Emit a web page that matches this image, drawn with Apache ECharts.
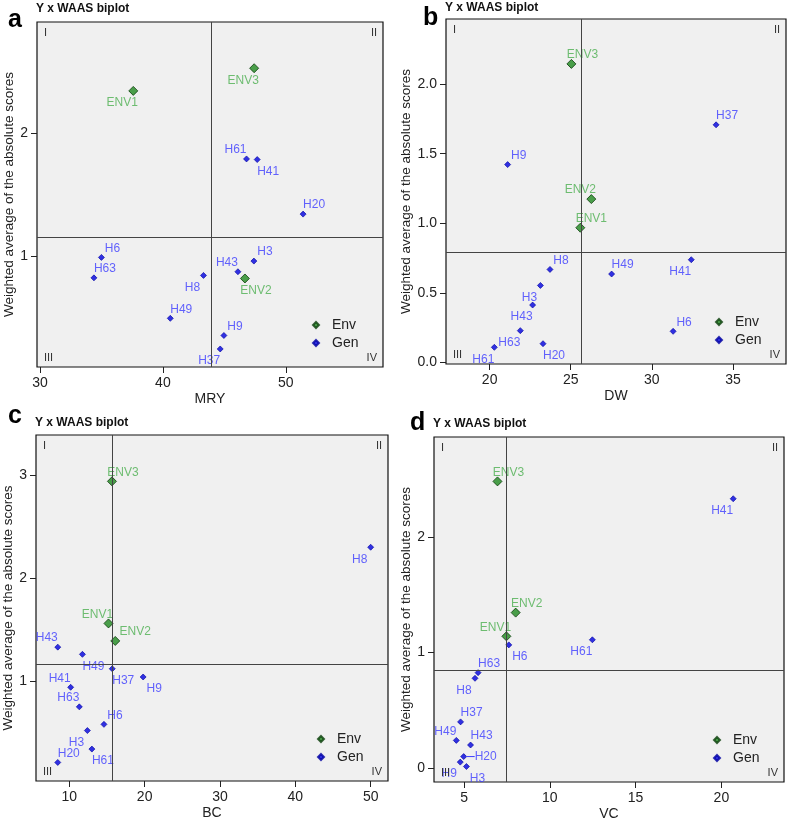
<!DOCTYPE html>
<html lang="en">
<head>
<meta charset="utf-8">
<title>Y x WAAS biplot</title>
<script src="https://cdn.jsdelivr.net/npm/echarts@6/dist/echarts.min.js"></script>
<style>
  html, body { margin: 0; padding: 0; background: #fff; }
  #main { width: 789px; height: 824px; }
</style>
</head>
<body>
<div id="main"></div>
<script>
// genotypes and environments (same order in every panel)
var genNames = ['H3', 'H6', 'H8', 'H9', 'H20', 'H37', 'H41', 'H43', 'H49', 'H61', 'H63'];
var envNames = ['ENV1', 'ENV2', 'ENV3'];

// a: MRY
var mryGenX = [47.4, 35.0, 43.3, 44.96, 51.4, 44.66, 47.67, 46.1, 40.6, 46.8, 34.39];
var mryGenY = [0.957, 0.987, 0.84, 0.35, 1.34, 0.24, 1.785, 0.87, 0.49, 1.79, 0.82];
var mryEnvX = [37.59, 46.67, 47.42];
var mryEnvY = [2.345, 0.815, 2.53];
var mryMeans = [43.9, 1.15];
var mryXTicks = [30, 40, 50];
var mryYTicks = [1, 2];

// b: DW
var dwGenX = [23.13, 31.31, 23.72, 21.11, 23.29, 33.96, 32.43, 22.65, 27.52, 20.29, 21.89];
var dwGenY = [0.553, 0.223, 0.668, 1.422, 0.134, 1.708, 0.738, 0.412, 0.635, 0.108, 0.228];
var dwEnvX = [25.59, 26.27, 25.04];
var dwEnvY = [0.968, 1.174, 2.146];
var dwMeans = [25.63, 0.793];
var dwXTicks = [20, 25, 30, 35];
var dwYTicks = [0, 0.5, 1, 1.5, 2];

// c: BC
var bcGenX = [12.4, 14.6, 50.0, 19.8, 8.47, 15.7, 10.18, 8.47, 11.74, 13.0, 11.33];
var bcGenY = [0.52, 0.58, 2.30, 1.04, 0.21, 1.12, 0.94, 1.33, 1.26, 0.34, 0.75];
var bcEnvX = [15.2, 16.1, 15.66];
var bcEnvY = [1.56, 1.39, 2.94];
var bcMeans = [15.66, 1.16];
var bcXTicks = [10, 20, 30, 40, 50];
var bcYTicks = [1, 2, 3];

// d: VC
var vcGenX = [5.14, 7.61, 5.64, 4.78, 4.98, 4.80, 20.69, 5.38, 4.55, 12.48, 5.82];
var vcGenY = [0.014, 1.066, 0.777, 0.052, 0.10, 0.40, 2.33, 0.20, 0.24, 1.11, 0.826];
var vcEnvX = [7.47, 8.01, 6.95];
var vcEnvY = [1.14, 1.345, 2.48];
var vcMeans = [7.47, 0.853];
var vcXTicks = [5, 10, 15, 20];
var vcYTicks = [0, 1, 2];

// label placement per point
var offs = { tr: [11, -9], tl: [-11, -9], br: [11, 12], bl: [-11, 12], tr2: [20, -9], r: [22, 0] };

var panels = [
  { letter: 'a', xName: 'MRY', gx: mryGenX, gy: mryGenY, ex: mryEnvX, ey: mryEnvY, means: mryMeans,
    xt: mryXTicks, yt: mryYTicks, xr: [29.76, 57.9], yr: [0.093, 2.907], yDec: 0, nameGap: 20,
    rect: { left: 37, top: 22, width: 346, height: 345 }, titleTop: 3, letterPos: [8, 8],
    lab: { H3: 'tr', H6: 'tr', H8: 'bl', H9: 'tr', H20: 'tr', H37: 'bl', H41: 'br', H43: 'tl', H49: 'tr', H61: 'tl', H63: 'tr', ENV1: 'bl', ENV2: 'br', ENV3: 'bl' } },
  { letter: 'b', xName: 'DW', gx: dwGenX, gy: dwGenY, ex: dwEnvX, ey: dwEnvY, means: dwMeans,
    xt: dwXTicks, yt: dwYTicks, xr: [17.31, 38.27], yr: [-0.012, 2.469], yDec: 1, nameGap: 30,
    rect: { left: 446, top: 19, width: 340, height: 345 }, titleTop: 2, letterPos: [423, 6],
    lab: { H3: 'bl', H6: 'tr', H8: 'tr', H9: 'tr', H20: 'br', H37: 'tr', H41: 'bl', H43: 'bl', H49: 'tr', H61: 'bl', H63: 'bl', ENV1: 'tr', ENV2: 'tl', ENV3: 'tr' } },
  { letter: 'c', xName: 'BC', gx: bcGenX, gy: bcGenY, ex: bcEnvX, ey: bcEnvY, means: bcMeans,
    xt: bcXTicks, yt: bcYTicks, xr: [5.58, 52.3], yr: [0.03, 3.39], yDec: 0, nameGap: 20,
    rect: { left: 36, top: 435, width: 352, height: 346 }, titleTop: 417, letterPos: [8, 404],
    lab: { H3: 'bl', H6: 'tr', H8: 'bl', H9: 'br', H20: 'tr', H37: 'br', H41: 'tl', H43: 'tl', H49: 'br', H61: 'br', H63: 'tl', ENV1: 'tl', ENV2: 'tr2', ENV3: 'tr' } },
  { letter: 'd', xName: 'VC', gx: vcGenX, gy: vcGenY, ex: vcEnvX, ey: vcEnvY, means: vcMeans,
    xt: vcXTicks, yt: vcYTicks, xr: [3.25, 23.65], yr: [-0.12, 2.864], yDec: 0, nameGap: 20,
    rect: { left: 434, top: 437, width: 350, height: 345 }, titleTop: 418, letterPos: [410, 411],
    lab: { H3: 'br', H6: 'br', H8: 'bl', H9: 'bl', H20: 'r', H37: 'tr', H41: 'bl', H43: 'tr', H49: 'tl', H61: 'bl', H63: 'tr', ENV1: 'tl', ENV2: 'tr', ENV3: 'tr' } }
];

var font = 'Liberation Sans, Arial, sans-serif';
var myChart = echarts.init(document.getElementById('main'));

var grid = [], xAxis = [], yAxis = [], series = [], title = [], legend = [], graphic = [];

function pts(names, xs, ys, lab) {
  var out = [];
  for (var i = 0; i < names.length; i++) {
    out.push({ name: names[i], value: [xs[i], ys[i]], label: { offset: offs[lab[names[i]]] } });
  }
  return out;
}

panels.forEach(function (p, k) {
  var r = p.rect;
  grid.push({ left: r.left, top: r.top, width: r.width, height: r.height, show: true,
    backgroundColor: '#f0f0f0', borderColor: '#111', borderWidth: 1.2 });

  xAxis.push({ gridIndex: k, type: 'value', min: p.xr[0], max: p.xr[1],
    name: p.xName, nameLocation: 'middle', nameGap: 25,
    nameTextStyle: { fontSize: 14, color: '#222', fontFamily: font },
    axisLine: { show: false, onZero: false }, splitLine: { show: false },
    axisTick: { show: true, length: 6, customValues: p.xt, lineStyle: { color: '#222' } },
    axisLabel: { customValues: p.xt, fontSize: 14, color: '#222', margin: 9, fontFamily: font } });

  yAxis.push({ gridIndex: k, type: 'value', min: p.yr[0], max: p.yr[1],
    name: 'Weighted average of the absolute scores', nameLocation: 'middle', nameGap: p.nameGap,
    nameTextStyle: { fontSize: 13.5, color: '#222', fontFamily: font },
    axisLine: { show: false, onZero: false }, splitLine: { show: false },
    axisTick: { show: true, length: 6, customValues: p.yt, lineStyle: { color: '#222' } },
    axisLabel: { customValues: p.yt, fontSize: 14, color: '#222', margin: 9, fontFamily: font,
      formatter: function (v) { return v.toFixed(p.yDec); } } });

  // quadrant lines at the means
  series.push({ type: 'scatter', xAxisIndex: k, yAxisIndex: k, data: [], z: 1, silent: true,
    markLine: { silent: true, symbol: 'none', animation: false, label: { show: false },
      lineStyle: { color: '#444', width: 1, type: 'solid' },
      data: [{ xAxis: p.means[0] }, { yAxis: p.means[1] }] } });

  series.push({ name: 'Gen', type: 'scatter', xAxisIndex: k, yAxisIndex: k, z: 3,
    symbol: 'diamond', symbolSize: 6,
    itemStyle: { color: '#0000dd', borderColor: '#0000a0', borderWidth: 0.8 },
    label: { show: true, position: 'inside', formatter: '{b}', fontSize: 12, color: '#3c3cff', fontFamily: font },
    data: pts(genNames, p.gx, p.gy, p.lab) });

  series.push({ name: 'Env', type: 'scatter', xAxisIndex: k, yAxisIndex: k, z: 4,
    symbol: 'diamond', symbolSize: 9,
    itemStyle: { color: '#1f8a1f', borderColor: '#0b3d0b', borderWidth: 1 },
    label: { show: true, position: 'inside', formatter: '{b}', fontSize: 12, color: '#4caf50', fontFamily: font },
    data: pts(envNames, p.ex, p.ey, p.lab) });

  title.push({ text: 'Y x WAAS biplot', left: r.left - 1, top: p.titleTop, padding: 0,
    textStyle: { fontSize: 12, fontWeight: 'bold', color: '#111', fontFamily: font } });
  title.push({ text: p.letter, left: p.letterPos[0], top: p.letterPos[1], padding: 0,
    textStyle: { fontSize: 25, fontWeight: 'bold', color: '#000', fontFamily: font } });

  legend.push({ data: [{ name: 'Env', icon: 'diamond' }, { name: 'Gen', icon: 'diamond' }],
    orient: 'vertical', left: r.left + r.width - 71, top: r.top + r.height - 49,
    padding: 0, itemGap: 4, itemWidth: 6, itemHeight: 6, selectedMode: false,
    textStyle: { fontSize: 14, color: '#222', fontFamily: font, padding: [0, 0, 0, 8] } });

  // quadrant numerals
  var qs = { fontSize: 11, fill: '#333', fontFamily: font };
  var right = r.left + r.width, bottom = r.top + r.height;
  [['I', r.left + 7, r.top + 11, 'left'], ['II', right - 6, r.top + 11, 'right'],
   ['III', r.left + 7, bottom - 9, 'left'], ['IV', right - 6, bottom - 9, 'right']].forEach(function (q) {
    graphic.push({ type: 'text', x: q[1], y: q[2], z: 10,
      style: Object.assign({ text: q[0], textAlign: q[3], textVerticalAlign: 'middle' }, qs) });
  });
});

myChart.setOption({
  animation: false,
  textStyle: { fontFamily: font },
  title: title, grid: grid, xAxis: xAxis, yAxis: yAxis, legend: legend, series: series, graphic: graphic
});

// short leader line for H20 in panel d
var h20 = genNames.indexOf('H20');
var px = myChart.convertToPixel({ gridIndex: 3 }, [vcGenX[h20], vcGenY[h20]]);
graphic.push({ type: 'line', z: 10, shape: { x1: px[0] + 3, y1: px[1], x2: px[0] + 11, y2: px[1] },
  style: { stroke: '#3c3cff', lineWidth: 1 } });
myChart.setOption({ graphic: graphic });
</script>
</body>
</html>
